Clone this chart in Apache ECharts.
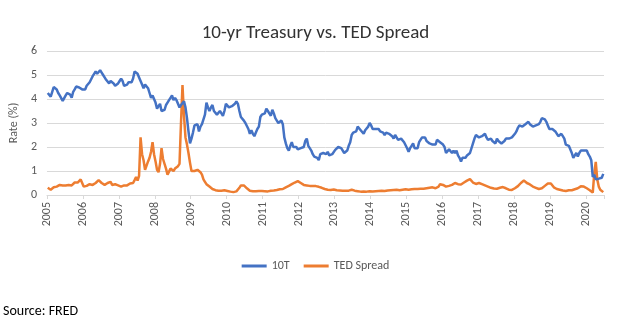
<!DOCTYPE html>
<html>
<head>
<meta charset="utf-8">
<script src="https://cdn.jsdelivr.net/npm/echarts@6/dist/echarts.min.js"></script>
<style>
  html, body { margin: 0; padding: 0; background: #fff; }
  #chart { width: 631px; height: 325px; }
</style>
</head>
<body>
<div id="chart"></div>
<script>
// Semi-monthly readings (1st half / 2nd half of each month), Jan 2005 – Jun 2020
const startYear = 2005;
const yearTicks = [2005, 2006, 2007, 2008, 2009, 2010, 2011, 2012, 2013, 2014, 2015, 2016, 2017, 2018, 2019, 2020];

// 10-year Treasury constant maturity rate, %
const tsy10 = [
  4.25, 4.18, 4.10, 4.30, 4.50, 4.58, 4.40, 4.25, 4.15, 4.10, 3.92, 3.95, 4.15, 4.25, 4.30, 4.18, 4.05, 4.30, 4.40, 4.52, 4.60, 4.48, 4.48, 4.40,
  4.35, 4.40, 4.55, 4.55, 4.70, 4.75, 4.95, 5.05, 5.15, 5.05, 5.10, 5.20, 5.10, 5.00, 4.90, 4.80, 4.75, 4.65, 4.75, 4.70, 4.65, 4.55, 4.50, 4.65,
  4.75, 4.85, 4.75, 4.55, 4.55, 4.60, 4.70, 4.70, 4.70, 4.85, 5.15, 5.10, 5.05, 4.90, 4.75, 4.60, 4.45, 4.60, 4.65, 4.45, 4.25, 4.05, 4.15, 4.10,
  3.85, 3.60, 3.70, 3.80, 3.50, 3.45, 3.55, 3.75, 3.85, 3.95, 4.05, 4.15, 3.95, 4.05, 3.95, 3.80, 3.65, 3.75, 3.75, 3.90, 3.65, 3.20, 2.65, 2.15,
  2.35, 2.60, 2.90, 2.85, 2.95, 2.65, 2.85, 2.95, 3.15, 3.35, 3.85, 3.65, 3.50, 3.65, 3.75, 3.50, 3.45, 3.35, 3.35, 3.50, 3.40, 3.30, 3.50, 3.80,
  3.80, 3.65, 3.65, 3.70, 3.70, 3.80, 3.90, 3.80, 3.50, 3.25, 3.25, 3.10, 3.00, 2.95, 2.75, 2.55, 2.70, 2.55, 2.45, 2.60, 2.75, 2.85, 3.25, 3.35,
  3.35, 3.40, 3.60, 3.50, 3.45, 3.30, 3.55, 3.40, 3.20, 3.10, 3.00, 2.95, 3.10, 2.95, 2.40, 2.15, 1.95, 1.85, 2.05, 2.20, 2.00, 1.95, 2.00, 1.90,
  1.95, 1.95, 1.95, 2.00, 2.25, 2.35, 2.05, 1.95, 1.85, 1.70, 1.60, 1.65, 1.55, 1.45, 1.70, 1.70, 1.75, 1.75, 1.70, 1.80, 1.65, 1.65, 1.70, 1.75,
  1.88, 1.95, 2.00, 1.95, 1.95, 1.90, 1.75, 1.70, 1.85, 2.05, 2.20, 2.50, 2.60, 2.55, 2.65, 2.85, 2.90, 2.70, 2.65, 2.55, 2.70, 2.75, 2.85, 3.00,
  2.90, 2.75, 2.70, 2.75, 2.70, 2.75, 2.65, 2.70, 2.60, 2.50, 2.60, 2.60, 2.55, 2.50, 2.45, 2.35, 2.50, 2.55, 2.30, 2.25, 2.35, 2.30, 2.20, 2.20,
  1.95, 1.80, 1.95, 2.05, 2.15, 1.95, 1.90, 1.95, 2.20, 2.20, 2.40, 2.35, 2.40, 2.25, 2.20, 2.15, 2.20, 2.10, 2.05, 2.10, 2.30, 2.25, 2.20, 2.25,
  2.10, 2.00, 1.75, 1.75, 1.90, 1.90, 1.75, 1.85, 1.75, 1.85, 1.65, 1.55, 1.40, 1.55, 1.55, 1.55, 1.65, 1.60, 1.75, 1.80, 2.15, 2.35, 2.50, 2.50,
  2.40, 2.45, 2.45, 2.40, 2.55, 2.40, 2.30, 2.25, 2.35, 2.25, 2.20, 2.15, 2.35, 2.25, 2.25, 2.15, 2.10, 2.25, 2.35, 2.40, 2.35, 2.35, 2.40, 2.45,
  2.55, 2.65, 2.80, 2.90, 2.85, 2.85, 2.80, 2.95, 3.00, 3.05, 2.95, 2.90, 2.85, 2.90, 2.90, 2.85, 2.95, 3.05, 3.20, 3.15, 3.15, 3.05, 2.90, 2.75,
  2.70, 2.75, 2.70, 2.65, 2.60, 2.45, 2.50, 2.55, 2.45, 2.35, 2.10, 2.05, 2.05, 2.05, 1.75, 1.55, 1.65, 1.75, 1.60, 1.75, 1.85, 1.80, 1.85, 1.90,
  1.85, 1.70, 1.60, 1.45, 0.75, 0.85, 0.65, 0.62, 0.68, 0.68, 0.72, 0.88
];

// TED spread (3-month LIBOR minus 3-month T-bill), %
const tedSpread = [
  0.30, 0.25, 0.22, 0.28, 0.32, 0.30, 0.35, 0.40, 0.42, 0.38, 0.40, 0.38, 0.40, 0.45, 0.42, 0.38, 0.40, 0.45, 0.52, 0.60, 0.52, 0.45, 0.65, 0.50,
  0.35, 0.33, 0.38, 0.42, 0.45, 0.40, 0.42, 0.48, 0.50, 0.55, 0.62, 0.65, 0.50, 0.45, 0.42, 0.48, 0.50, 0.55, 0.55, 0.42, 0.40, 0.45, 0.42, 0.40,
  0.40, 0.35, 0.35, 0.40, 0.45, 0.40, 0.42, 0.48, 0.55, 0.50, 0.62, 0.75, 0.60, 0.80, 2.40, 1.70, 1.45, 1.05, 1.10, 1.40, 1.55, 1.80, 2.20, 1.70,
  1.40, 1.05, 0.95, 1.30, 1.95, 1.50, 1.45, 1.10, 0.85, 0.90, 1.10, 1.05, 1.00, 1.10, 1.05, 1.20, 1.30, 3.00, 4.58, 3.30, 2.40, 2.10, 1.75, 1.35,
  1.00, 0.95, 1.00, 1.05, 1.05, 1.00, 0.95, 0.85, 0.65, 0.55, 0.45, 0.40, 0.35, 0.30, 0.25, 0.22, 0.20, 0.18, 0.18, 0.17, 0.18, 0.20, 0.20, 0.21,
  0.17, 0.15, 0.14, 0.13, 0.12, 0.14, 0.15, 0.20, 0.30, 0.40, 0.45, 0.40, 0.35, 0.28, 0.22, 0.18, 0.17, 0.16, 0.15, 0.16, 0.18, 0.17, 0.16, 0.17,
  0.17, 0.16, 0.15, 0.15, 0.16, 0.18, 0.20, 0.19, 0.20, 0.21, 0.22, 0.24, 0.22, 0.25, 0.30, 0.32, 0.35, 0.38, 0.40, 0.45, 0.48, 0.52, 0.55, 0.58,
  0.55, 0.50, 0.45, 0.42, 0.40, 0.40, 0.39, 0.38, 0.38, 0.38, 0.38, 0.37, 0.36, 0.34, 0.32, 0.30, 0.28, 0.25, 0.23, 0.22, 0.22, 0.21, 0.22, 0.23,
  0.22, 0.20, 0.20, 0.19, 0.19, 0.18, 0.18, 0.18, 0.17, 0.18, 0.20, 0.22, 0.20, 0.18, 0.17, 0.16, 0.15, 0.14, 0.14, 0.15, 0.15, 0.14, 0.15, 0.16,
  0.16, 0.15, 0.15, 0.16, 0.17, 0.17, 0.17, 0.18, 0.18, 0.17, 0.18, 0.19, 0.19, 0.20, 0.20, 0.21, 0.21, 0.22, 0.21, 0.20, 0.21, 0.22, 0.23, 0.24,
  0.23, 0.22, 0.23, 0.24, 0.24, 0.25, 0.24, 0.25, 0.26, 0.26, 0.27, 0.26, 0.27, 0.28, 0.29, 0.30, 0.31, 0.32, 0.30, 0.28, 0.25, 0.35, 0.45, 0.42,
  0.42, 0.40, 0.35, 0.33, 0.38, 0.45, 0.42, 0.45, 0.50, 0.48, 0.45, 0.42, 0.44, 0.48, 0.52, 0.55, 0.60, 0.58, 0.66, 0.60, 0.52, 0.48, 0.46, 0.48,
  0.50, 0.48, 0.45, 0.42, 0.40, 0.38, 0.35, 0.33, 0.30, 0.28, 0.27, 0.25, 0.26, 0.28, 0.30, 0.32, 0.33, 0.30, 0.28, 0.25, 0.22, 0.20, 0.21, 0.20,
  0.28, 0.33, 0.37, 0.45, 0.50, 0.55, 0.60, 0.62, 0.50, 0.46, 0.44, 0.40, 0.35, 0.32, 0.30, 0.27, 0.25, 0.26, 0.28, 0.32, 0.38, 0.42, 0.48, 0.50,
  0.48, 0.40, 0.32, 0.27, 0.25, 0.24, 0.22, 0.20, 0.19, 0.18, 0.17, 0.18, 0.20, 0.19, 0.20, 0.22, 0.24, 0.25, 0.28, 0.32, 0.36, 0.34, 0.35, 0.33,
  0.28, 0.25, 0.20, 0.15, 0.10, 0.90, 1.38, 0.65, 0.35, 0.22, 0.16, 0.12
];

const seriesNames = ['10T', 'TED Spread'];
const seriesColors = ['#4472C4', '#ED7D31'];

// each reading sits at the middle of its half-month
const dateOf = i => startYear + (i + 0.5) / 24;
const toPairs = arr => arr.map((v, i) => [dateOf(i), v]);

const font = 'Carlito, Calibri, Lato, sans-serif';
const chart = echarts.init(document.getElementById('chart'), null, { renderer: 'canvas' });

chart.setOption({
  animation: false,
  backgroundColor: '#ffffff',
  title: {
    text: '10-yr Treasury vs. TED Spread',
    left: 'center',
    top: 19,
    textStyle: { fontFamily: font, fontSize: 19, fontWeight: 'normal', color: '#333333' }
  },
  grid: { left: 45, right: 27, top: 51, bottom: 130, containLabel: false },
  legend: {
    bottom: 48,
    left: 'center',
    itemWidth: 25,
    itemHeight: 3,
    itemGap: 14,
    icon: 'rect',
    textStyle: { fontFamily: font, fontSize: 12, color: '#595959' },
    data: seriesNames
  },
  xAxis: {
    type: 'value',
    min: yearTicks[0],
    max: 2020.5,
    interval: 1,
    axisLine: { lineStyle: { color: '#D9D9D9' } },
    axisTick: { show: true, length: 4, lineStyle: { color: '#D9D9D9' } },
    splitLine: { show: false },
    axisLabel: {
      rotate: 90,
      margin: 7,
      fontFamily: font,
      fontSize: 12,
      color: '#595959',
      formatter: v => (yearTicks.indexOf(v) >= 0 ? String(v) : '')
    }
  },
  yAxis: {
    type: 'value',
    min: 0,
    max: 6,
    interval: 1,
    name: 'Rate (%)',
    nameLocation: 'middle',
    nameRotate: 90,
    nameGap: 20,
    nameTextStyle: { fontFamily: font, fontSize: 12, color: '#595959' },
    axisLine: { show: false },
    axisTick: { show: false },
    splitLine: { lineStyle: { color: '#D9D9D9', width: 1 } },
    axisLabel: { margin: 10, fontFamily: font, fontSize: 12, color: '#595959' }
  },
  graphic: [{
    type: 'text',
    left: 3,
    top: 304,
    style: { text: 'Source: FRED', font: '14px ' + font, fill: '#000000' }
  }],
  series: [
    {
      name: seriesNames[0],
      type: 'line',
      data: toPairs(tsy10),
      showSymbol: false,
      symbol: 'none',
      lineStyle: { color: seriesColors[0], width: 2.5 },
      itemStyle: { color: seriesColors[0] },
      z: 3
    },
    {
      name: seriesNames[1],
      type: 'line',
      data: toPairs(tedSpread),
      showSymbol: false,
      symbol: 'none',
      lineStyle: { color: seriesColors[1], width: 2.5 },
      itemStyle: { color: seriesColors[1] },
      z: 2
    }
  ]
});
</script>
</body>
</html>
